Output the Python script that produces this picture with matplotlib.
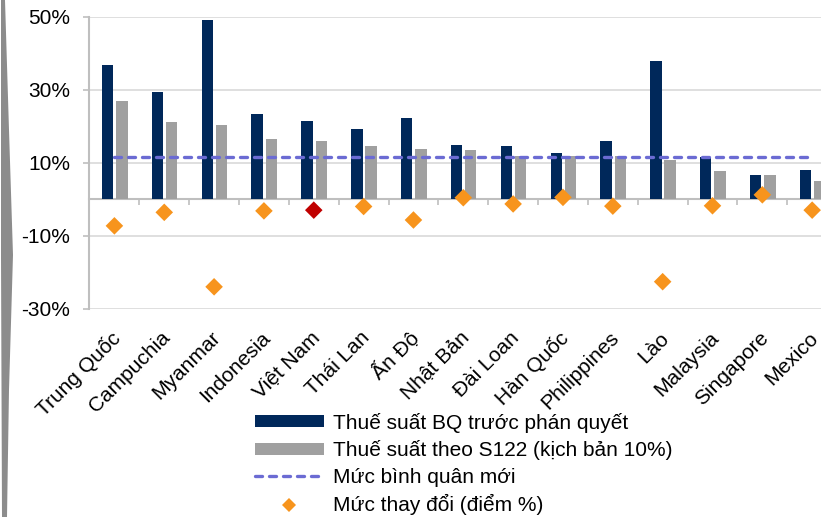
import matplotlib
matplotlib.use("Agg")
import matplotlib.pyplot as plt
import matplotlib.transforms as mtransforms
from matplotlib.patches import Patch, Polygon
from matplotlib.lines import Line2D
import numpy as np

plt.rcParams['font.family'] = ['Liberation Sans', 'DejaVu Sans']

countries = ["Trung Quốc", "Campuchia", "Myanmar", "Indonesia", "Việt Nam",
             "Thái Lan", "Ấn Độ", "Nhật Bản", "Đài Loan", "Hàn Quốc",
             "Philippines", "Lào", "Malaysia", "Singapore", "Mexico"]
rate_before = [36.8, 29.4, 49.1, 23.4, 21.5, 19.3, 22.2, 14.8, 14.5, 12.7,
               15.9, 37.8, 11.5, 6.6, 8.0]
rate_s122 = [26.8, 21.2, 20.4, 16.4, 15.9, 14.7, 13.8, 13.4, 11.8, 11.8,
             11.8, 10.7, 7.6, 6.6, 5.0]
avg_new = [11.6] * 15
change = [-7.3, -3.6, -24.0, -3.2, -3.0, -2.0, -5.7, 0.4, -1.3, 0.5,
          -1.9, -22.6, -1.8, 1.2, -3.0]
yticks = [-30, -10, 10, 30, 50]

navy = "#00285A"
grey = "#A0A0A0"
orange = "#F7941D"
red = "#C00000"
dash_col = "#6B6BD3"
axis_col = "#BFBFBF"
fs = 15

fig = plt.figure(figsize=(8.21, 5.17), dpi=100)
ax = fig.add_axes([0.109, 0.4029, 0.9106, 0.5648])

x = np.arange(len(countries))
ax.bar(x - 0.135, rate_before, width=0.23, color=navy, zorder=3)
ax.bar(x + 0.15, rate_s122, width=0.23, color=grey, zorder=3)
ax.plot(x, avg_new, color=dash_col, lw=2.4, dashes=(2.1, 2.1),
        dash_capstyle='round', zorder=4)
pt_cols = [red if c == "Việt Nam" else orange for c in countries]
ax.scatter(x, change, marker='D', s=80, c=pt_cols, linewidths=0, zorder=5)

ax.set_xlim(-0.5, len(countries) - 0.5)
ax.set_ylim(-30, 50)
ax.set_yticks(yticks)
ax.set_yticklabels([f"{v}%" for v in yticks], fontsize=fs)
ax.yaxis.grid(True, color="#D9D9D9", lw=1.2, zorder=0)
ax.tick_params(axis='y', length=4.3, width=1.2, color=axis_col, pad=9.5)

# x axis sits at zero, ticks between categories
ax.spines['bottom'].set_position(('data', 0))
ax.spines['bottom'].set_color(axis_col)
ax.spines['bottom'].set_linewidth(1.5)
ax.spines['left'].set_color(axis_col)
ax.spines['left'].set_linewidth(1.5)
ax.spines['top'].set_visible(False)
ax.spines['right'].set_visible(False)
ax.set_xticks(np.arange(0.5, len(countries) - 0.5, 1.0))
ax.set_xticklabels([])
ax.tick_params(axis='x', length=4.5, width=1.2, color=axis_col)

# category names below the plot
trans = mtransforms.blended_transform_factory(ax.transData, ax.transAxes)
for i, name in enumerate(countries):
    ax.text(i + 0.06, -0.09, name, transform=trans, rotation=45,
            ha='right', va='center', rotation_mode='anchor', fontsize=fs)

handles = [
    Patch(facecolor=navy, edgecolor='none'),
    Patch(facecolor=grey, edgecolor='none'),
    Line2D([], [], color=dash_col, lw=2.4, dashes=(2.1, 2.1), dash_capstyle='round'),
    Line2D([], [], color=orange, marker='D', ms=7, ls='none', mew=0),
]
labels = ["Thuế suất BQ trước phán quyết",
          "Thuế suất theo S122 (kịch bản 10%)",
          "Mức bình quân mới",
          "Mức thay đổi (điểm %)"]
fig.legend(handles, labels, loc='center left',
           bbox_to_anchor=(255 / 821, 1 - 464 / 517), frameon=False,
           fontsize=fs, borderpad=0, borderaxespad=0, handlelength=3.3,
           handleheight=0.5, handletextpad=0.45, labelspacing=0.36)

# grey bracket on the left edge
pts = [(1, 0), (5, 0), (9, 130), (13, 255), (9, 390), (7, 517), (2, 517), (1, 255)]
fig.patches.append(Polygon([(px / 821, 1 - py / 517) for px, py in pts],
                           closed=True, transform=fig.transFigure,
                           facecolor="#8C8C8C", edgecolor='none'))

fig.savefig("out.png", dpi=100)
